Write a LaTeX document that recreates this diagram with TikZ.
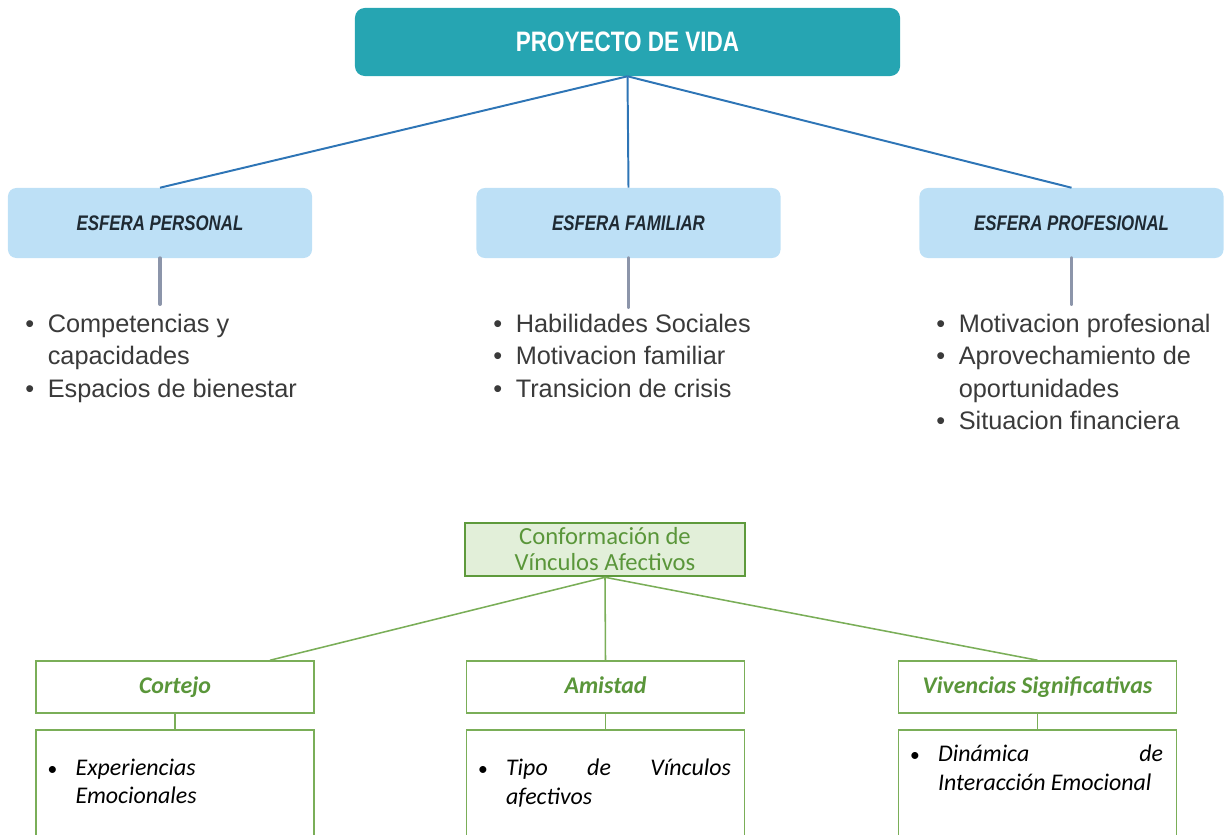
\documentclass[tikz,border=0pt]{standalone}
\usepackage{fontspec}
\setmainfont{Liberation Sans}
\newfontfamily\cond[FakeStretch=0.8]{Liberation Sans}
\newfontfamily\calib{Carlito}
\usetikzlibrary{calc}

\definecolor{tealbox}{HTML}{26A5B2}
\definecolor{esfblue}{HTML}{BDE0F6}
\definecolor{esftext}{HTML}{1F2A33}
\definecolor{blueline}{HTML}{2E75B6}
\definecolor{grayline}{HTML}{8C95AA}
\definecolor{listtext}{HTML}{3A3A3A}
\definecolor{vincfill}{HTML}{E2EFD9}
\definecolor{vincline}{HTML}{5E9A3C}
\definecolor{greenline}{HTML}{7AAE58}
\definecolor{greentext}{HTML}{5A963A}

\newcommand{\pbul}{\makebox[16pt][l]{\textbullet}}
\newcommand{\pcont}{\hspace*{16pt}}
\newcommand{\gbul}{\makebox[20pt][l]{\fontsize{14}{20}\selectfont\textbullet}}

\begin{document}
\begin{tikzpicture}[x=0.025cm, y=-0.025cm,
    esfera/.style={rounded corners=6pt, fill=esfblue, minimum width=7.6cm, minimum height=1.75cm,
        text=esftext, font=\cond\bfseries\itshape\fontsize{15}{18}\selectfont},
    plist/.style={anchor=north west, inner sep=0pt, align=left, text=listtext,
        font=\fontsize{18}{23}\selectfont},
    gbox/.style={draw=greenline, line width=1.1pt, fill=white, minimum width=6.95cm, minimum height=1.3cm,
        text height=12pt, text depth=3pt, inner ysep=0pt,
        text=greentext, font=\calib\bfseries\itshape\fontsize{17}{20}\selectfont},
    lowbox/.style={draw=greenline, line width=1.1pt, minimum width=6.95cm, minimum height=3.5cm, anchor=north},
    lowtext/.style={anchor=north west, inner sep=0pt, align=left,
        font=\calib\itshape\fontsize{17}{20}\selectfont},
    blink/.style={draw=blueline, line width=1.4pt},
    glink/.style={draw=grayline, line width=2.8pt, line cap=round},
    vlink/.style={draw=greenline, line width=1.1pt}]
    %\draw[help lines](0,0) grid(1231,835);
    \useasboundingbox (0,0) rectangle (1231,835);
    \clip (0,0) rectangle (1231,835);

    % proyecto de vida
    \node [rounded corners=7pt, fill=tealbox, minimum width=13.625cm, minimum height=1.7cm,
        text=white, font=\cond\bfseries\fontsize{20}{24}\selectfont] (top) at (627.5,42) {PROYECTO DE VIDA};

    % las tres esferas
    \node [esfera] (pers) at (160,223) {ESFERA PERSONAL};
    \node [esfera] (fam) at (628.5,223) {ESFERA FAMILIAR};
    \node [esfera] (prof) at (1071.5,223) {ESFERA PROFESIONAL};

    \draw [blink] (top.south) -- (pers.north);
    \draw [blink] (top.south) -- (fam.north);
    \draw [blink] (top.south) -- (prof.north);

    \coordinate (persend) at (160,304);
    \coordinate (famend) at (628.5,307);
    \coordinate (profend) at (1071.5,304);
    \draw [glink] (pers.south) -- (persend);
    \draw [glink] (fam.south) -- (famend);
    \draw [glink] (prof.south) -- (profend);

    % listas
    \node [plist] (perslist) at (25,314) {\pbul Competencias y\\ \pcont capacidades\\ \pbul Espacios de bienestar};
    \node [plist] (famlist) at (493,314) {\pbul Habilidades Sociales\\ \pbul Motivacion familiar\\ \pbul Transicion de crisis};
    \node [plist] (proflist) at (936,314) {\pbul Motivacion profesional\\ \pbul Aprovechamiento de\\ \pcont oportunidades\\ \pbul Situacion financiera};

    % vinculos afectivos
    \node [draw=vincline, line width=1.8pt, fill=vincfill, minimum width=7cm, minimum height=1.325cm,
        inner sep=0pt, align=center, text=greentext, font=\calib\fontsize{17.5}{18.5}\selectfont]
        (vinc) at (605,549.5) {Conformación de\\Vínculos Afectivos};

    \node [gbox] (cort) at (175,687) {Cortejo};
    \node [gbox] (amis) at (605.5,687) {Amistad};
    \node [gbox] (viv) at (1037.5,687) {Vivencias Significativas};

    \draw [vlink] (vinc.south) -- ($(cort.north west)!0.84!(cort.north east)$);
    \draw [vlink] (vinc.south) -- (amis.north);
    \draw [vlink] (vinc.south) -- (viv.north);

    \node [lowbox] (cortB) at (175,729) {};
    \node [lowbox] (amisB) at (605.5,729) {};
    \node [lowbox] (vivB) at (1037.5,729) {};
    \draw [vlink] (cort.south) -- (cortB.north);
    \draw [vlink] (amis.south) -- (amisB.north);
    \draw [vlink] (viv.south) -- (vivB.north);

    \node [lowtext] (cortT) at ($(cortB.north west)+(12,30)$)
        {\gbul\parbox[t]{160pt}{Experiencias\\Emocionales}};
    \node [lowtext] (amisT) at ($(amisB.north west)+(12,30)$)
        {\gbul\parbox[t]{160pt}{Tipo\hfill de\hfill Vínculos\\afectivos}};
    \node [lowtext] (vivT) at ($(vivB.north west)+(12,16)$)
        {\gbul\parbox[t]{160pt}{Dinámica\hfill de\\Interacción Emocional}};
\end{tikzpicture}
\end{document}
